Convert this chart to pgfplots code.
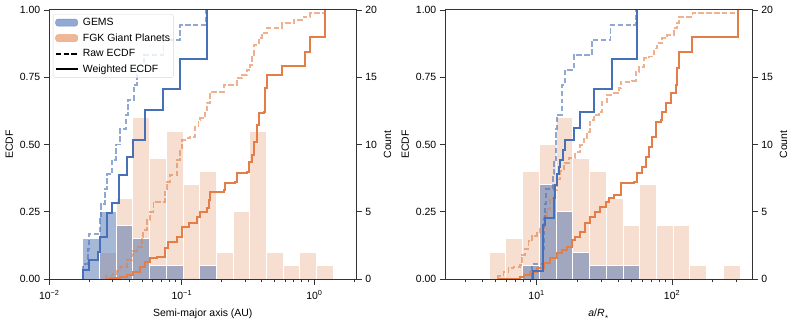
\documentclass[border=0pt]{standalone}
\usepackage{fontspec}
\setmainfont{Liberation Sans}
\usepackage{pgfplots}
\pgfplotsset{compat=1.18}

\definecolor{gblue}{RGB}{70,112,184}
\definecolor{gorange}{RGB}{228,126,70}
\definecolor{obar}{RGB}{246,222,208}
\definecolor{bbar}{RGB}{76,114,176}
\definecolor{gemsleg}{RGB}{118,148,200}
\definecolor{fgkleg}{RGB}{236,165,125}

\pgfplotsset{
  every axis/.append style={scale only axis, width=307bp, height=269bp, ymin=0,
    tick align=outside, major tick length=5.5bp, minor tick length=3bp,
    every tick/.append style={line width=0.9bp, black!80},
    axis line style={line width=1bp, black!80},
    tick label style={font=\fontsize{10.5}{12}\selectfont},
    every axis label/.append style={font=\fontsize{10.5}{12}\selectfont}},
  obars/.style={ybar interval, fill=obar, draw=white, line width=0.8bp},
  bbars/.style={ybar interval, fill=bbar, fill opacity=0.5, draw=white, line width=0.8bp},
  wline/.style={const plot, line width=2bp, draw=#1, forget plot},
  rline/.style={const plot, line width=1.9bp, draw=#1, draw opacity=0.6,
    dash pattern=on 5.5bp off 2.4bp, forget plot},
}

\begin{document}
\begin{tikzpicture}
\path[use as bounding box] (0,0) rectangle (793bp,323bp);

% ---------- left panel: semi-major axis ----------
\begin{axis}[at={(49.3bp,44bp)}, xmode=log, xmin=0.01, xmax=2.07, ymax=20,
  axis y line*=right, axis x line=none, ytick={0,5,10,15,20}, ylabel={Count},
  /pgf/number format/assume math mode=true]
\addplot[obars] coordinates {
 (0.02388,2) (0.03192,6) (0.04266,12) (0.05702,9) (0.07621,11) (0.1019,7)
 (0.1361,8) (0.1820,2) (0.2432,5) (0.3251,11) (0.4345,2) (0.5808,1)
 (0.7762,2) (1.0375,1) (1.387,0)};
\addplot[bbars] coordinates {
 (0.01786,3) (0.02388,5) (0.03192,4) (0.04266,3) (0.05702,1) (0.07621,1)
 (0.1019,0) (0.1361,1) (0.1820,0)};
\end{axis}

\begin{axis}[at={(49.3bp,44bp)}, xmode=log, xmin=0.01, xmax=2.07, ymax=1,
  ytick={0,0.25,0.5,0.75,1}, ytick pos=left, xtick pos=left,
  yticklabel style={/pgf/number format/fixed, /pgf/number format/fixed zerofill,
    /pgf/number format/precision=2},
  xticklabel style={yshift=-2bp},
  xlabel style={yshift=-3bp},
  /pgf/number format/assume math mode=true,
  ylabel={ECDF},
  xtick={0.01,0.1,1},
  xticklabels={10\textsuperscript{−2},10\textsuperscript{−1},10\textsuperscript{0}},
  minor xtick={0.02,0.03,0.04,0.05,0.06,0.07,0.08,0.09,0.2,0.3,0.4,0.5,0.6,0.7,0.8,0.9,2},
  xlabel={Semi-major axis (AU)},
  legend cell align=left,
  legend style={at={(0.012,0.985)}, anchor=north west, draw=black!15,
    rounded corners=2.5pt, fill=white, fill opacity=0.8, text opacity=1,
    font=\fontsize{10.5}{12}\selectfont, inner xsep=1.5pt, inner ysep=2pt, row sep=2.6pt}]
\addlegendimage{legend image code/.code={\fill[gemsleg] (2bp,-3.5bp) rectangle (24bp,3.5bp); \path (27bp,0bp);}}
\addlegendentry{GEMS}
\addlegendimage{legend image code/.code={\fill[fgkleg] (2bp,-3.5bp) rectangle (24bp,3.5bp); \path (27bp,0bp);}}
\addlegendentry{FGK Giant Planets}
\addlegendimage{legend image code/.code={\draw[black, line width=1.9bp, dash pattern=on 5.5bp off 2.4bp] (2bp,0bp) -- (24bp,0bp); \path (27bp,0bp);}}
\addlegendentry{Raw ECDF}
\addlegendimage{legend image code/.code={\draw[black, line width=2bp] (2bp,0bp) -- (24bp,0bp); \path (27bp,0bp);}}
\addlegendentry{Weighted ECDF}

% raw ECDF, FGK
\addplot[rline=gorange] coordinates {
 (0.0268,0) (0.0268,0.013) (0.0300,0.020) (0.0323,0.030) (0.0342,0.046)
 (0.0384,0.071) (0.0419,0.089) (0.0431,0.105) (0.0457,0.120) (0.0499,0.157)
 (0.0513,0.182) (0.0544,0.219) (0.0576,0.250) (0.0611,0.287) (0.0749,0.325)
 (0.0771,0.362) (0.0816,0.387) (0.0917,0.442) (0.0971,0.480) (0.1000,0.517)
 (0.1060,0.523) (0.1156,0.529) (0.1261,0.566) (0.1336,0.591) (0.1375,0.597)
 (0.1501,0.622) (0.1545,0.653) (0.1637,0.696) (0.2065,0.721) (0.2603,0.746)
 (0.2840,0.758) (0.3099,0.777) (0.3284,0.796) (0.3381,0.833) (0.3480,0.870)
 (0.3796,0.895) (0.4023,0.913) (0.4388,0.934) (0.5697,0.950) (0.6981,0.963)
 (0.8307,0.975) (0.9328,0.988) (1.2109,1.0)};
% raw ECDF, GEMS
\addplot[rline=gblue] coordinates {
 (0.0181,0) (0.0181,0.056) (0.0195,0.111) (0.0200,0.167) (0.0240,0.222)
 (0.0245,0.278) (0.0262,0.333) (0.0272,0.389) (0.0296,0.444) (0.0320,0.500)
 (0.0342,0.556) (0.0380,0.611) (0.0390,0.667) (0.0435,0.722) (0.0460,0.778)
 (0.0520,0.833) (0.0727,0.889) (0.0970,0.944) (0.1520,1.0)};
% weighted ECDF, FGK
\addplot[wline=gorange] coordinates {
 (0.0268,0) (0.0287,0.003) (0.0342,0.009) (0.0384,0.015) (0.0431,0.027)
 (0.0484,0.046) (0.0528,0.064) (0.0576,0.077) (0.0650,0.083) (0.0749,0.114)
 (0.0793,0.139) (0.0917,0.157) (0.1000,0.195) (0.1123,0.207) (0.1298,0.232)
 (0.1375,0.250) (0.1545,0.263) (0.1591,0.294) (0.1637,0.325) (0.2065,0.331)
 (0.2126,0.356) (0.2529,0.362) (0.2603,0.393) (0.3099,0.399) (0.3190,0.436)
 (0.3380,0.461) (0.3480,0.511) (0.3688,0.572) (0.3796,0.616) (0.4141,0.622)
 (0.4263,0.709) (0.4388,0.758) (0.5697,0.793) (0.8551,0.845) (0.9328,0.901)
 (1.2109,1.0)};
% weighted ECDF, GEMS
\addplot[wline=gblue] coordinates {
 (0.0181,0) (0.0181,0.033) (0.0200,0.070) (0.0234,0.100) (0.0241,0.157)
 (0.0271,0.244) (0.0296,0.284) (0.0338,0.387) (0.0384,0.455) (0.0431,0.517)
 (0.0528,0.628) (0.0727,0.705) (0.0970,0.817) (0.1545,1.0)};
\end{axis}

% ---------- right panel: a / R_star ----------
\begin{axis}[at={(445.3bp,44bp)}, xmode=log, xmin=2.12, xmax=391, ymax=20,
  axis y line*=right, axis x line=none, ytick={0,5,10,15,20}, ylabel={Count},
  /pgf/number format/assume math mode=true]
\addplot[obars] coordinates {
 (4.461,2) (5.929,3) (7.879,8) (10.47,10) (13.91,12) (18.49,9) (24.57,8)
 (32.66,6) (43.40,4) (57.68,7) (76.65,4) (101.8,4) (135.3,1) (179.9,0)
 (239.0,1) (317.7,0)};
\addplot[bbars] coordinates {
 (7.879,1) (10.47,7) (13.91,5) (18.49,2) (24.57,1) (32.66,1) (43.40,1) (57.68,0)};
\end{axis}

\begin{axis}[at={(445.3bp,44bp)}, xmode=log, xmin=2.12, xmax=391, ymax=1,
  ytick={0,0.25,0.5,0.75,1}, ytick pos=left, xtick pos=left,
  yticklabel style={/pgf/number format/fixed, /pgf/number format/fixed zerofill,
    /pgf/number format/precision=2},
  xticklabel style={yshift=-2bp},
  xlabel style={yshift=-3bp},
  /pgf/number format/assume math mode=true,
  ylabel={ECDF},
  xtick={10,100},
  xticklabels={10\textsuperscript{1},10\textsuperscript{2}},
  minor xtick={3,4,5,6,7,8,9,20,30,40,50,60,70,80,90,200,300},
  xlabel={\textit{a}/\textit{R}\textsubscript{$\star$}}]
\addplot[rline=gorange] coordinates {
 (5.23,0) (5.23,0.01) (5.70,0.025) (6.20,0.04) (6.75,0.046) (7.57,0.052)
 (7.79,0.09) (8.24,0.11) (8.72,0.14) (9.23,0.16) (10.06,0.17) (10.65,0.19)
 (11.27,0.23) (11.93,0.26) (12.62,0.30) (13.36,0.33) (14.15,0.37) (14.97,0.40)
 (15.85,0.43) (17.26,0.45) (19.34,0.473) (21.06,0.498) (22.29,0.52) (23.60,0.548)
 (24.97,0.591) (26.44,0.61) (28.79,0.622) (30.48,0.659) (33.19,0.684) (37.19,0.69)
 (40.50,0.709) (41.67,0.734) (50.84,0.736) (53.82,0.771) (56.96,0.789) (62.03,0.82)
 (67.54,0.827) (73.56,0.857) (77.86,0.876) (84.81,0.895) (92.35,0.907) (103.47,0.932)
 (109.51,0.95) (112.69,0.975) (137.5,0.984) (141.45,0.99) (304.8,1.0)};
\addplot[rline=gblue] coordinates {
 (9.23,0) (9.23,0.056) (11.14,0.111) (11.27,0.167) (11.40,0.222) (11.53,0.278)
 (11.73,0.333) (13.21,0.389) (13.44,0.444) (13.95,0.5) (14.0,0.556) (14.15,0.611)
 (15.31,0.667) (15.49,0.722) (16.31,0.778) (18.79,0.833) (25.70,0.889)
 (35.13,0.944) (54.43,1.0)};
\addplot[wline=gorange] coordinates {
 (5.23,0) (7.57,0.009) (8.01,0.015) (8.98,0.027) (10.06,0.040) (11.27,0.058)
 (12.62,0.077) (14.15,0.095) (15.40,0.108) (16.78,0.120) (18.27,0.145) (19.34,0.157)
 (21.06,0.176) (22.94,0.207) (24.97,0.232) (27.21,0.250) (29.63,0.269) (32.27,0.287)
 (34.15,0.300) (37.19,0.312) (41.67,0.356) (52.30,0.362) (55.36,0.393) (60.29,0.418)
 (63.81,0.455) (67.54,0.492) (71.52,0.529) (75.68,0.585) (82.42,0.591) (84.81,0.622)
 (89.81,0.653) (97.75,0.690) (106.5,0.721) (109.5,0.783) (112.7,0.845) (141.45,0.901)
 (304.8,1.0)};
\addplot[wline=gblue] coordinates {
 (9.34,0) (9.34,0.03) (11.14,0.20) (11.59,0.226) (13.36,0.30) (13.75,0.35)
 (14.15,0.39) (14.55,0.418) (14.97,0.442) (15.58,0.48) (16.31,0.517) (18.79,0.56)
 (21.06,0.622) (26.44,0.705) (35.94,0.817) (55.05,1.0)};
\end{axis}
\end{tikzpicture}
\end{document}
